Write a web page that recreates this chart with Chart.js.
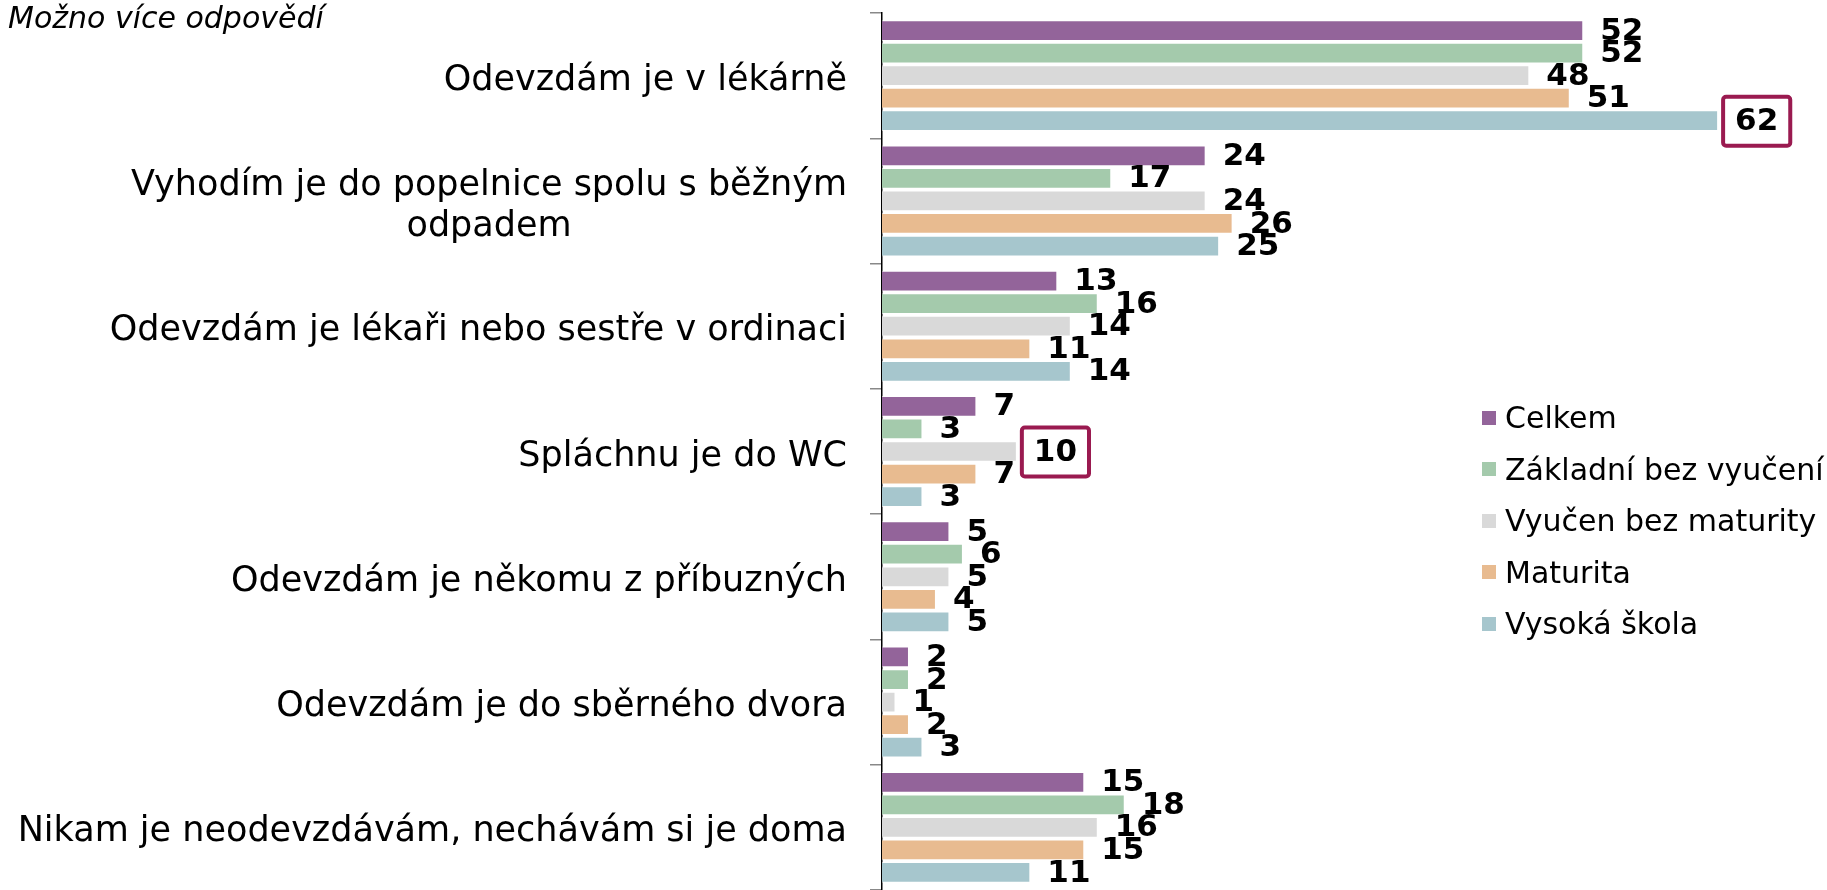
<!DOCTYPE html>
<html>
<head>
<meta charset="utf-8">
<script src="https://cdn.jsdelivr.net/npm/chart.js@4.4.1/dist/chart.umd.min.js"></script>
<style>
  body { margin: 0; background: #fff; font-family: "DejaVu Sans", Verdana, sans-serif; }
  #wrap { position: relative; width: 1827px; height: 890px; }
  #note { position: absolute; left: 8px; top: 0px; font-size: 30px; font-style: italic; color: #000; }
  #legend { position: absolute; left: 1482px; top: 392px; }
  .item { height: 51.5px; display: flex; align-items: center; font-size: 30px; color: #000; white-space: nowrap; }
  .box { width: 14px; height: 14px; margin-right: 9px; }
</style>
</head>
<body>
<div id="wrap">
  <canvas id="chart" width="1827" height="890"></canvas>
  <div id="note">Možno více odpovědí</div>
  <div id="legend"></div>
</div>
<script>
// categories (top to bottom)
const categories = [
  'Odevzdám je v lékárně',
  ['Vyhodím je do popelnice spolu s běžným', 'odpadem'],
  'Odevzdám je lékaři nebo sestře v ordinaci',
  'Spláchnu je do WC',
  'Odevzdám je někomu z příbuzných',
  'Odevzdám je do sběrného dvora',
  'Nikam je neodevzdávám, nechávám si je doma'
];

const seriesNames = ['Celkem', 'Základní bez vyučení', 'Vyučen bez maturity', 'Maturita', 'Vysoká škola'];
const seriesColors = ['#93649A', '#A4CAAC', '#D9D9D9', '#E8BB90', '#A6C6CD'];

const celkem    = [52, 24, 13, 7, 5, 2, 15];
const zakladni  = [52, 17, 16, 3, 6, 2, 18];
const vyucen    = [48, 24, 14, 10, 5, 1, 16];
const maturita  = [51, 26, 11, 7, 4, 2, 15];
const vysoka    = [62, 25, 14, 3, 5, 3, 11];

// [series index, category index] of boxed labels
const highlighted = [[4, 0], [2, 3]];

const allSeries = [celkem, zakladni, vyucen, maturita, vysoka];

// legend
const legendEl = document.getElementById('legend');
seriesNames.forEach((name, i) => {
  legendEl.innerHTML += `<div class="item"><span class="box" style="background:${seriesColors[i]}"></span>${name}</div>`;
});

// value labels next to bars
const valueLabels = {
  id: 'valueLabels',
  afterDatasetsDraw(chart) {
    const ctx = chart.ctx;
    ctx.save();
    ctx.font = 'bold 31px "DejaVu Sans", Verdana, sans-serif';
    ctx.textBaseline = 'middle';
    ctx.textAlign = 'left';
    ctx.fillStyle = '#000';
    chart.data.datasets.forEach((ds, i) => {
      const meta = chart.getDatasetMeta(i);
      meta.data.forEach((bar, j) => {
        const txt = String(ds.data[j]);
        const x = bar.x + 17;
        const y = bar.y + 1;
        const hi = highlighted.some(h => h[0] === i && h[1] === j);
        if (hi) {
          const w = ctx.measureText(txt).width + 24;
          ctx.save();
          ctx.strokeStyle = '#9A1A50';
          ctx.lineWidth = 4;
          ctx.fillStyle = '#fff';
          ctx.beginPath();
          ctx.roundRect(x - 12, bar.y - 24, w, 49, 3);
          ctx.fill();
          ctx.stroke();
          ctx.restore();
        }
        ctx.fillText(txt, x, y);
      });
    });
    ctx.restore();
  }
};

// category labels: block right-aligned, lines centred within block
const categoryLabels = {
  id: 'categoryLabels',
  afterDraw(chart) {
    const ctx = chart.ctx;
    const yScale = chart.scales.y;
    const xr = yScale.right - 35;
    const lineH = 41;
    ctx.save();
    ctx.font = '35px "DejaVu Sans", Verdana, sans-serif';
    ctx.fillStyle = '#000';
    ctx.textBaseline = 'middle';
    ctx.textAlign = 'center';
    categories.forEach((lab, i) => {
      const lines = Array.isArray(lab) ? lab : [lab];
      const w = Math.max(...lines.map(l => ctx.measureText(l).width));
      const cy = yScale.getPixelForValue(i) + 5;
      lines.forEach((l, k) => {
        ctx.fillText(l, xr - w / 2, cy + (k - (lines.length - 1) / 2) * lineH);
      });
    });
    ctx.restore();
  }
};

new Chart(document.getElementById('chart'), {
  type: 'bar',
  data: {
    labels: categories,
    datasets: allSeries.map((d, i) => ({
      label: seriesNames[i],
      data: d,
      backgroundColor: seriesColors[i],
      borderColor: 'rgba(255,255,255,0.6)',
      borderWidth: 1,
      categoryPercentage: 0.9,
      barPercentage: 0.92
    }))
  },
  options: {
    indexAxis: 'y',
    responsive: false,
    animation: false,
    layout: { padding: { top: 13, right: 1, bottom: 0, left: 0 } },
    plugins: { legend: { display: false }, tooltip: { enabled: false } },
    scales: {
      x: { display: false, min: 0, max: 70 },
      y: {
        afterFit: (scale) => { scale.width = 882; },
        ticks: { display: false },
        grid: { offset: true, drawOnChartArea: false, drawTicks: true, tickLength: 12, color: '#888', lineWidth: 1.5 },
        border: { display: true, color: '#000', width: 1.5 }
      }
    }
  },
  plugins: [valueLabels, categoryLabels]
});
</script>
</body>
</html>
